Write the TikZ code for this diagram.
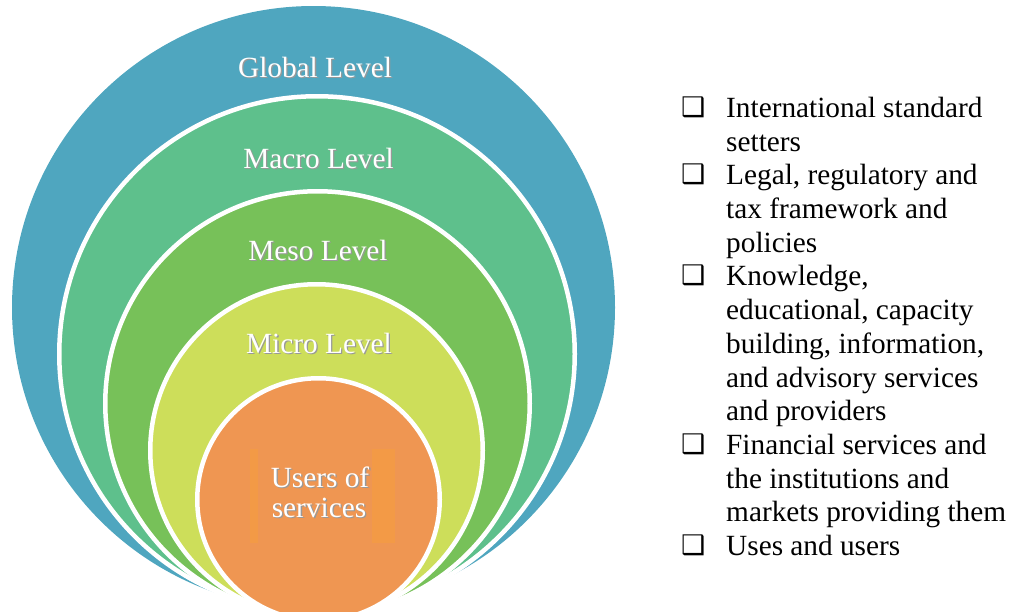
\documentclass[tikz,border=0pt]{standalone}
\usepackage{fontspec}
\setmainfont{Liberation Serif}
\newfontfamily\dingfont{DejaVu Sans}
\usetikzlibrary{positioning}

\definecolor{globalc}{HTML}{4FA6BF}
\definecolor{macroc}{HTML}{5EC08C}
\definecolor{mesoc}{HTML}{77C159}
\definecolor{microc}{HTML}{CDDE5A}
\definecolor{usersc}{HTML}{EF9652}
\definecolor{stripc}{HTML}{F39A46}

\newcommand{\shadowtxt}[1]{\makebox[0pt][l]{\kern1.3pt\raisebox{-1.3pt}{\textcolor{black!40}{#1}}}#1}
\newcommand{\boxbullet}{\makebox[45pt][l]{\raisebox{1pt}{\dingfont\fontsize{27}{27}\selectfont ❑}}}

\begin{document}
\begin{tikzpicture}[
    x=1pt, y=-1pt,
    lvl/.style={circle, inner sep=0pt, draw=white, line width=4.5pt},
    lvl-txt/.style={anchor=base, inner sep=0pt, text=white, font=\fontsize{29.3}{30}\selectfont},
    item-list/.style={anchor=base west, inner sep=0pt, align=left, font=\fontsize{29.3}{33.7}\selectfont}
  ]
  \useasboundingbox (0,0) rectangle (1023,611);
  \clip (0,0) rectangle (1023,611);

  % nested levels
  \node (global) [circle, inner sep=0pt, fill=globalc, minimum size=603pt] at (313.5,307.5) {};
  \node (macro) [lvl, fill=macroc, minimum size=515.5pt] at (317,354) {};
  \node (meso) [lvl, fill=mesoc, minimum size=424.5pt] at (317.5,403.5) {};
  \node (micro) [lvl, fill=microc, minimum size=332.5pt] at (316.5,450.5) {};
  \node (users) [lvl, fill=usersc, minimum size=242.5pt] at (318.5,499.5) {};

  \fill[stripc] (250,449) rectangle (258,543);
  \fill[stripc] (372,449) rectangle (395,543);

  \node (global-t) [lvl-txt] at (315,77) {\shadowtxt{Global Level}};
  \node (macro-t) [lvl-txt] at (318.5,168) {\shadowtxt{Macro Level}};
  \node (meso-t) [lvl-txt] at (318,260) {\shadowtxt{Meso Level}};
  \node (micro-t) [lvl-txt] at (319,353) {\shadowtxt{Micro Level}};
  \node (users-t1) [lvl-txt] at (320,487) {\shadowtxt{Users of}};
  \node (users-t2) [lvl-txt] at (319,517) {\shadowtxt{services}};

  % list of actors (base = last line)
  \node (actors) [item-list] at (681,555.5) {%
    \boxbullet International standard\\
    \hspace*{45pt}setters\\
    \boxbullet Legal, regulatory and\\
    \hspace*{45pt}tax framework and\\
    \hspace*{45pt}policies\\
    \boxbullet Knowledge,\\
    \hspace*{45pt}educational, capacity\\
    \hspace*{45pt}building, information,\\
    \hspace*{45pt}and advisory services\\
    \hspace*{45pt}and providers\\
    \boxbullet Financial services and\\
    \hspace*{45pt}the institutions and\\
    \hspace*{45pt}markets providing them\\
    \boxbullet Uses and users};

\end{tikzpicture}
\end{document}
